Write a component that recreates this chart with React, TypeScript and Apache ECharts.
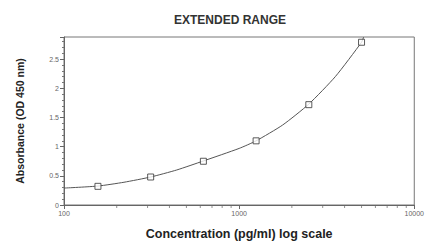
import React, { useEffect, useRef } from "react";
import * as echarts from "echarts";

const titleText = "EXTENDED RANGE";
const xAxisName = "Concentration (pg/ml) log scale";
const yAxisName = "Absorbance (OD 450 nm)";

const pointX = [156.25, 312.5, 625, 1250, 2500, 5000];
const pointY = [0.32, 0.48, 0.75, 1.1, 1.72, 2.79];

const curveX = [100, 156.25, 220, 312.5, 440, 625, 1000, 1250, 1770, 2500, 3540, 5000, 5140];
const curveY = [0.29, 0.325, 0.39, 0.48, 0.6, 0.755, 0.97, 1.1, 1.37, 1.73, 2.2, 2.79, 2.88];

const logMinorTicks = [200, 300, 400, 500, 600, 700, 800, 900, 2000, 3000, 4000, 5000, 6000, 7000, 8000, 9000];

const yLabels: Record<string, string> = { "0": "0", "0.5": "0.5", "1": "1", "1.5": "1.5", "2": "2", "2.5": "2.5" };

export default function App() {
  const ref = useRef<HTMLDivElement>(null);
  useEffect(() => {
    if (!ref.current) return;
    const chart = echarts.init(ref.current, undefined, { renderer: "svg" });
    const font = "'Liberation Sans', Arial, sans-serif";
    chart.setOption({
      animation: false,
      backgroundColor: "#fff",
      title: {
        text: titleText,
        left: 169,
        top: 9,
        textStyle: { fontFamily: font, fontSize: 12, fontWeight: "bold", color: "#333" },
      },
      grid: {
        left: 64,
        right: 11,
        top: 37,
        bottom: 35,
        show: true,
        borderColor: "#777",
        borderWidth: 1,
        backgroundColor: "transparent",
      },
      xAxis: {
        type: "log",
        logBase: 10,
        min: 100,
        max: 10000,
        name: xAxisName,
        nameLocation: "middle",
        nameGap: 22,
        nameTextStyle: { fontFamily: font, fontSize: 12.5, fontWeight: "bold", color: "#222" },
        axisLine: { show: true, lineStyle: { color: "#666", width: 1 } },
        axisTick: { show: true, length: 4, lineStyle: { color: "#666" } },
        axisLabel: { fontFamily: font, fontSize: 7, color: "#666", margin: 5, formatter: (v: number) => String(Math.round(v)) },
        splitLine: { show: false },
        minorTick: { show: false },
      },
      yAxis: {
        type: "value",
        min: 0,
        max: 2.88,
        interval: 0.5,
        name: yAxisName,
        nameLocation: "middle",
        nameGap: 39,
        nameTextStyle: { fontFamily: font, fontSize: 10.5, fontWeight: "bold", color: "#222" },
        axisLine: { show: true, lineStyle: { color: "#666", width: 1 } },
        axisTick: { show: true, length: 4, lineStyle: { color: "#666" } },
        minorTick: { show: true, splitNumber: 5, length: 2, lineStyle: { color: "#777" } },
        axisLabel: {
          fontFamily: font,
          fontSize: 7,
          color: "#666",
          margin: 5,
          showMaxLabel: false,
          formatter: (v: number) => yLabels[String(v)] ?? "",
        },
        splitLine: { show: false },
      },
      series: [
        {
          type: "line",
          data: curveX.map((x, i) => [x, curveY[i]]),
          smooth: 0.2,
          showSymbol: false,
          symbol: "none",
          lineStyle: { color: "#555", width: 1 },
          clip: true,
          z: 2,
        },
        {
          type: "scatter",
          data: pointX.map((x, i) => [x, pointY[i]]),
          symbol: "rect",
          symbolSize: 6,
          itemStyle: { color: "#fff", borderColor: "#333", borderWidth: 1 },
          z: 3,
        },
        {
          type: "scatter",
          data: logMinorTicks.map((x) => [x, 0]),
          symbol: "rect",
          symbolSize: [1, 2],
          symbolOffset: [0, 2],
          itemStyle: { color: "#777" },
          clip: false,
          silent: true,
          z: 1,
        },
      ],
    });
    return () => chart.dispose();
  }, []);
  return <div ref={ref} style={{ width: 427, height: 245, position: "absolute", left: 0, top: 0 }} />;
}
